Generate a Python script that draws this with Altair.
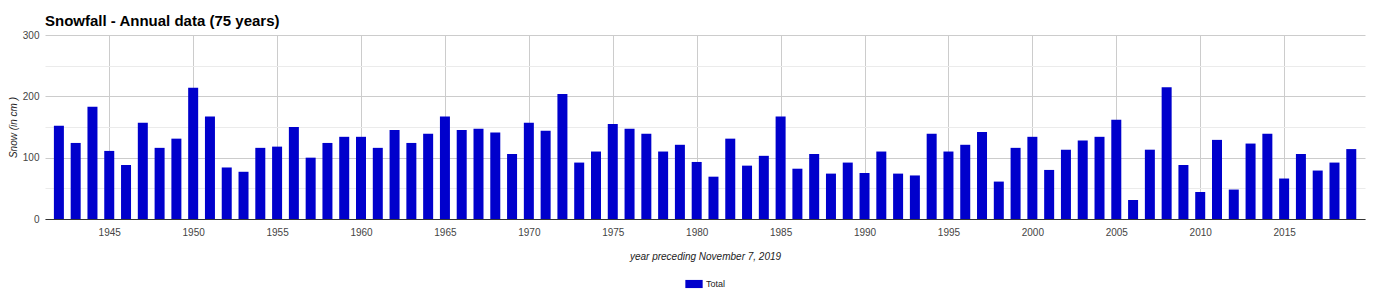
import altair as alt
import pandas as pd

years = list(range(1942, 2020))
snow = [152, 124, 183, 111, 88, 157, 116, 131, 214, 167,
        84, 77, 116, 118, 150, 100, 124, 134, 134, 116,
        145, 124, 139, 167, 145, 147, 141, 106, 157, 144,
        204, 92, 110, 155, 147, 139, 110, 121, 93, 69,
        131, 87, 103, 167, 82, 106, 74, 92, 75, 110,
        74, 71, 139, 110, 121, 142, 61, 116, 134, 80,
        113, 128, 134, 162, 31, 113, 215, 88, 44, 129,
        48, 123, 139, 66, 106, 79, 92, 114]
series = ["Total"] * len(years)

x_ticks = list(range(1945, 2016, 5))
y_ticks = [0, 50, 100, 150, 200, 250, 300]

df = pd.DataFrame({"year": years, "snow": snow, "series": series})

FONT = "Liberation Sans"

chart = alt.Chart(df).mark_bar(size=10).encode(
    x=alt.X("year:Q",
            scale=alt.Scale(domain=[1941.47, 2019.52], nice=False, zero=False),
            axis=alt.Axis(values=x_ticks, format="d", title="year preceding November 7, 2019",
                          grid=True, gridColor="#cccccc", ticks=False, domain=True,
                          domainColor="#333333", labelFont=FONT, labelFontSize=10,
                          labelColor="#444444", labelPadding=8,
                          titleFont=FONT, titleFontSize=10, titleFontStyle="italic",
                          titleFontWeight="normal", titleColor="#222222", titlePadding=14)),
    y=alt.Y("snow:Q",
            scale=alt.Scale(domain=[0, 300], nice=False),
            axis=alt.Axis(values=y_ticks, title="Snow (in cm )", grid=True,
                          gridColor={"condition": {"test": "datum.value % 100 === 0", "value": "#cccccc"},
                                     "value": "#ebebeb"},
                          labelExpr="datum.value % 100 === 0 ? datum.label : ''",
                          ticks=False, domain=False, labelFont=FONT, labelFontSize=10,
                          labelColor="#444444", labelPadding=6,
                          titleFont=FONT, titleFontSize=10, titleFontStyle="italic",
                          titleFontWeight="normal", titleColor="#222222", titlePadding=4)),
    color=alt.Color("series:N", scale=alt.Scale(range=["#0000cc"]),
                    legend=alt.Legend(title=None, orient="none", legendX=640, legendY=240,
                                      symbolType="M-1,-0.47H1V0.47H-1Z", symbolSize=300,
                                      symbolStrokeWidth=0, padding=0,
                                      labelFont=FONT, labelFontSize=9, labelColor="#222222",
                                      labelOffset=3)),
).properties(
    width=1320,
    height=184,
    title=alt.Title("Snowfall - Annual data (75 years)", anchor="start", frame="group",
                    font=FONT, fontSize=15, fontWeight="bold", color="#000000", offset=1),
    autosize=alt.AutoSizeParams(type="none"),
    padding={"left": 45, "top": 35, "right": 9, "bottom": 77},
).configure_view(stroke=None)

chart.save("out.html", embed_options={"renderer": "svg", "actions": False})
